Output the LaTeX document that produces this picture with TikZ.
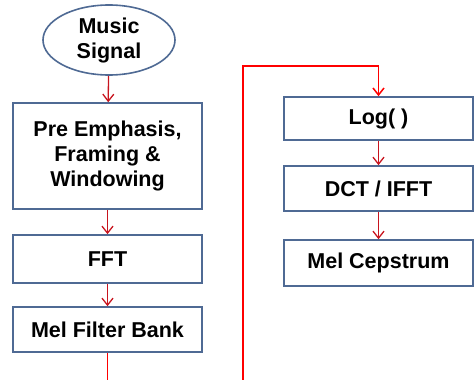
\documentclass[tikz,border=0pt]{standalone}
\usepackage{fontspec}
\setmainfont{Liberation Sans}
\usetikzlibrary{arrows.meta,shapes.geometric}
\definecolor{boxline}{HTML}{4F6A94}
\definecolor{darkred}{HTML}{C8141E}
\tikzset{
  block/.style={draw=boxline, line width=1.6pt, rectangle, minimum width=189pt, font=\bfseries\fontsize{21.5}{25}\selectfont, align=center, inner sep=0pt},
  flow/.style={draw=darkred, line width=1.3pt, -{Straight Barb[length=7pt,width=11pt]}},
  wire/.style={draw=red, line width=1.5pt}
}
\begin{document}
\begin{tikzpicture}[x=1pt, y=-1pt]
            \useasboundingbox (0, 0) rectangle (474, 380);
            % left column
            \node[ellipse, draw=boxline, line width=1.6pt, minimum width=132pt, minimum height=70pt, inner sep=0pt, align=center, font=\bfseries\fontsize{21.5}{25}\selectfont] (sig) at (109, 40) {Music\\Signal};
            \node[block, minimum height=106pt] (pre) at (107.5, 156) {Pre Emphasis,\\Framing \&\\Windowing};
            \node[block, minimum height=48pt] (fft) at (107.5, 259) {FFT};
            \node[block, minimum height=45pt] (mfb) at (107.5, 329.5) {Mel Filter Bank};
            % right column
            \node[block, minimum height=43pt] (log) at (378.5, 118.5) {Log( )};
            \node[block, minimum height=45pt] (dct) at (378.5, 188.5) {DCT / IFFT};
            \node[block, minimum height=46pt] (cep) at (378.5, 263) {Mel Cepstrum};
            \coordinate (out) at (107.5, 380);
            \coordinate (in) at (243, 380);
            \coordinate (top) at (243, 66);
            \draw[flow] (sig) -- (pre);
            \draw[flow] (pre) -- (fft);
            \draw[flow] (fft) -- (mfb);
            \draw[wire] (mfb) -- (out);
            \draw[wire, -{Straight Barb[length=7pt,width=11pt]}] (in) -- (top) -| (log.north);
            \draw[flow] (log) -- (dct);
            \draw[flow] (dct) -- (cep);
        \end{tikzpicture}
\end{document}
